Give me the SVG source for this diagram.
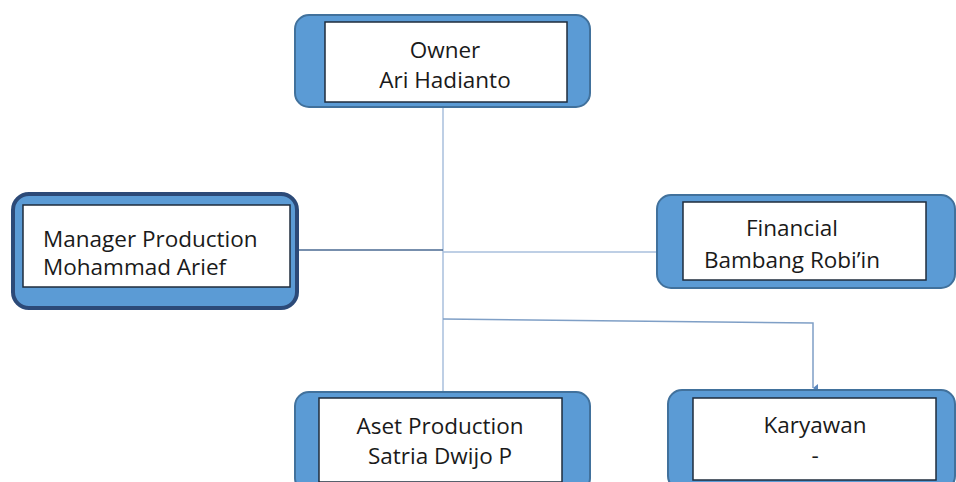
<svg xmlns="http://www.w3.org/2000/svg" width="956" height="482" viewBox="0 0 956 482">
<style>
.outer{fill:#5b9bd5;stroke:#41719c;stroke-width:2}
.outer2{fill:#5b9bd5;stroke:#2c4a78;stroke-width:4}
.inner{fill:#ffffff;stroke:#1f2d3d;stroke-width:1.5}
.t{font-family:"Open Sans","Liberation Sans",sans-serif;font-size:22.5px;fill:#1a1a1a}
.c{text-anchor:middle}
.ln{stroke:#a8bfdd;stroke-width:1.5;fill:none}
.ld{stroke:#4a6a92;stroke-width:1.5;fill:none}
</style>
<defs>
<marker id="ah" markerWidth="8" markerHeight="6" refX="4" refY="5" orient="auto" markerUnits="userSpaceOnUse">
<path d="M0,0 L8,0 L4,5 Z" fill="#5b87bd"/>
</marker>
</defs>
<rect width="956" height="482" fill="#ffffff"/>
<g id="connectors">
<line class="ln" x1="443" y1="107" x2="443" y2="392"/>
<line class="ld" x1="297" y1="250" x2="443" y2="250"/>
<line class="ln" x1="443" y1="252" x2="657" y2="252"/>
<polyline class="ln" style="stroke:#7f9fc6" points="443,319 813,323 813,388" marker-end="url(#ah)"/>
</g>
<g id="owner">
<rect class="outer" x="295" y="15" width="295" height="92" rx="14"/>
<rect class="inner" x="325" y="22" width="242" height="80"/>
<text class="t c" x="445" y="58">Owner</text>
<text class="t c" x="445" y="88">Ari Hadianto</text>
</g>
<g id="manager">
<rect class="outer2" x="13" y="194" width="284" height="114" rx="16"/>
<rect class="inner" x="23" y="205" width="267" height="82"/>
<text class="t" x="43" y="247">Manager Production</text>
<text class="t" x="43" y="275">Mohammad Arief</text>
</g>
<g id="financial">
<rect class="outer" x="657" y="195" width="298" height="93" rx="14"/>
<rect class="inner" x="683" y="202" width="243" height="78"/>
<text class="t c" x="792" y="236">Financial</text>
<text class="t c" x="792" y="268">Bambang Robi’in</text>
</g>
<g id="aset">
<rect class="outer" x="295" y="392" width="295" height="100" rx="14"/>
<rect class="inner" x="319" y="398" width="243" height="84"/>
<text class="t c" x="440" y="434">Aset Production</text>
<text class="t c" x="440" y="464">Satria Dwijo P</text>
</g>
<g id="karyawan">
<rect class="outer" x="668" y="390" width="287" height="100" rx="14"/>
<rect class="inner" x="693" y="398" width="243" height="82"/>
<text class="t c" x="815" y="433">Karyawan</text>
<text class="t c" x="815" y="463">-</text>
</g>
</svg>
